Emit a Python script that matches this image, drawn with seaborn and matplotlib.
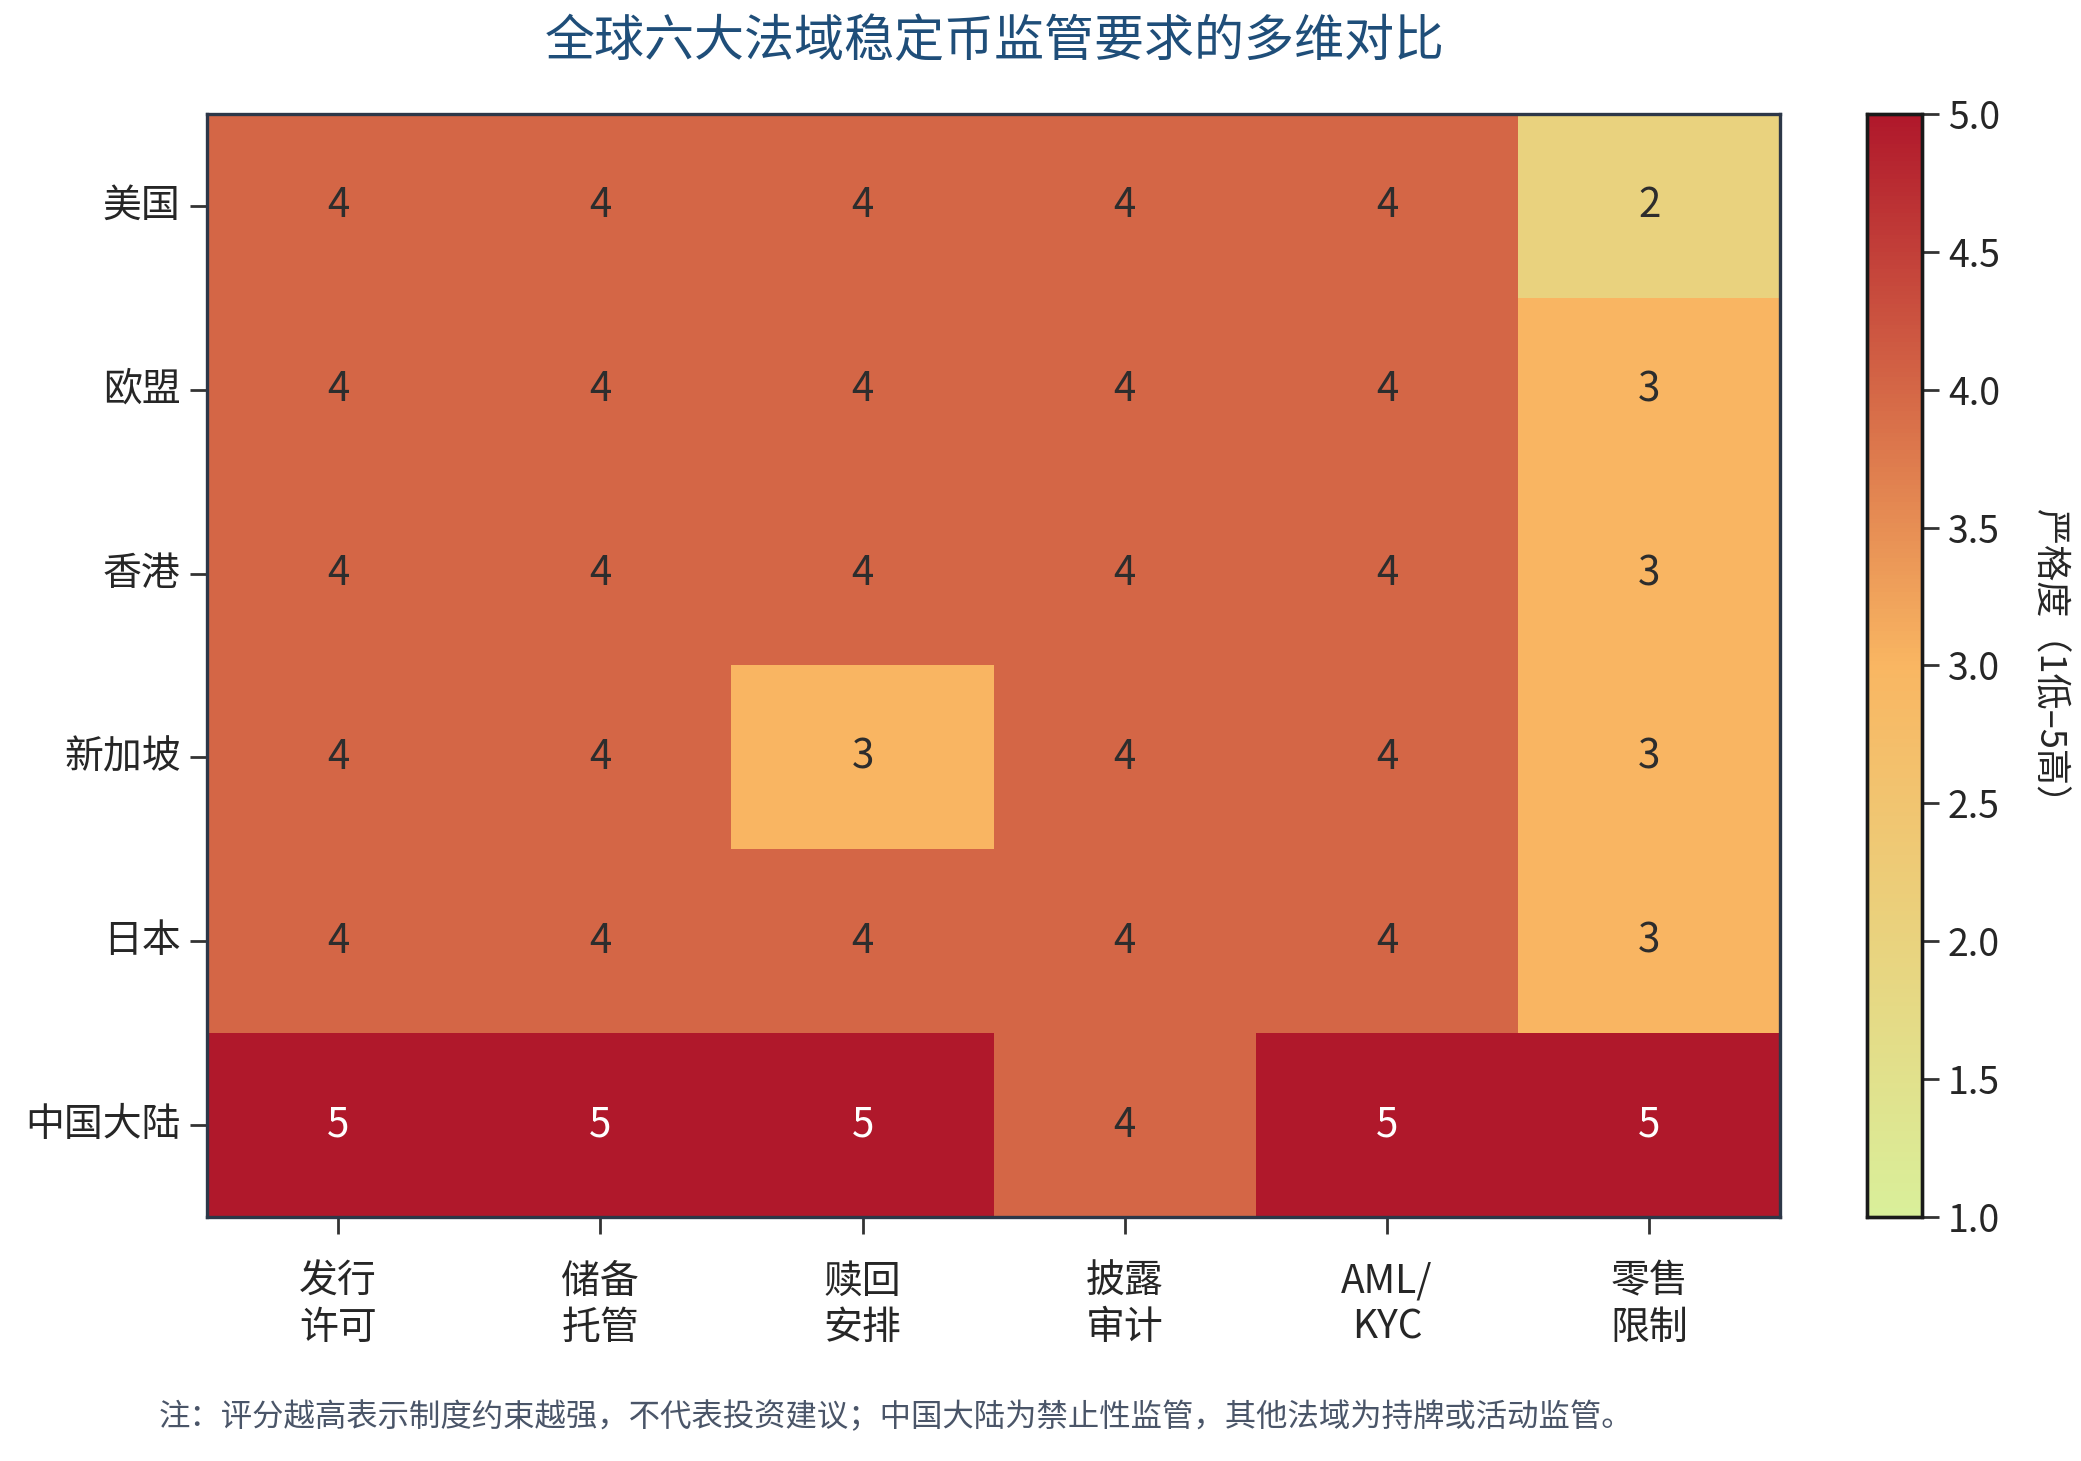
import numpy as np
import pandas as pd
import matplotlib
matplotlib.use("Agg")
import matplotlib.pyplot as plt
import seaborn as sns
from matplotlib.colors import LinearSegmentedColormap

# data
regions = ["美国", "欧盟", "香港", "新加坡", "日本", "中国大陆"]
dimensions = ["发行\n许可", "储备\n托管", "赎回\n安排", "披露\n审计", "AML/\nKYC", "零售\n限制"]
us = [4, 4, 4, 4, 4, 2]
eu = [4, 4, 4, 4, 4, 3]
hk = [4, 4, 4, 4, 4, 3]
sg = [4, 4, 3, 4, 4, 3]
jp = [4, 4, 4, 4, 4, 3]
cn = [5, 5, 5, 4, 5, 5]
cbar_ticks = [1.0, 1.5, 2.0, 2.5, 3.0, 3.5, 4.0, 4.5, 5.0]

df = pd.DataFrame([us, eu, hk, sg, jp, cn], index=regions, columns=dimensions)

sns.set_theme(style="white")
plt.rcParams['font.family'] = ['Noto Sans CJK SC', 'DejaVu Sans']

cmap = LinearSegmentedColormap.from_list("strict", ["#d9ef9a", "#f9b662", "#b0182b"])

fig = plt.figure(figsize=(10.405, 7.305), dpi=200)
ax = fig.add_axes([0.0995, 0.167, 0.756, 0.755])
cax = fig.add_axes([0.897, 0.167, 0.0264, 0.755])

sns.heatmap(df, ax=ax, cbar_ax=cax, cmap=cmap, vmin=1, vmax=5,
            annot=True, fmt="d", annot_kws={"fontsize": 14.5})

# text colours: white on the darkest cells
for t, v in zip(ax.texts, df.values.flatten()):
    t.set_color("white" if v >= 5 else "#2d2d2d")

ax.set_xticklabels(dimensions, rotation=0, fontsize=14, linespacing=1.2)
ax.set_yticklabels(regions, rotation=0, fontsize=14)
ax.tick_params(axis="both", length=6, width=1, color="#333333", bottom=True, left=True)
ax.tick_params(axis="x", pad=10)
ax.set_xlabel("")
ax.set_ylabel("")
for s in ax.spines.values():
    s.set_visible(True)
    s.set_color("#2d3748")
    s.set_linewidth(1.2)

cax.set_yticks(cbar_ticks)
cax.set_yticklabels([f"{v:.1f}" for v in cbar_ticks])
cax.tick_params(labelsize=13.5, length=6, width=1, color="#333333", right=True)
cax.set_ylabel("严格度（1低–5高）", rotation=270, labelpad=24, fontsize=13)
for s in cax.spines.values():
    s.set_visible(True)
    s.set_color("#1a1a1a")
    s.set_linewidth(1.2)

fig.text(0.478, 0.971, "全球六大法域稳定币监管要求的多维对比", ha="center", va="center",
         fontsize=18, color="#1f4e79")
fig.text(0.0764, 0.030, "注：评分越高表示制度约束越强，不代表投资建议；中国大陆为禁止性监管，其他法域为持牌或活动监管。",
         ha="left", va="center", fontsize=11.3, color="#4a5568")

fig.savefig("out.png", dpi=200)
